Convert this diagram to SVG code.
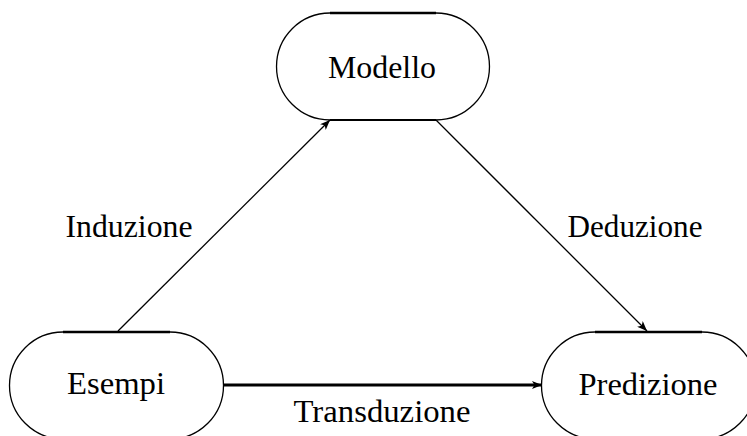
<svg xmlns="http://www.w3.org/2000/svg" width="747" height="436" viewBox="0 0 747 436">
<style>
.edge{fill:none;stroke:#000;stroke-width:1.3}
.top{fill:none;stroke:#000;stroke-width:2.6}
.bot{fill:none;stroke:#000;stroke-width:2}
.lbl{font-family:"Liberation Serif","Times New Roman",serif;font-size:31px;fill:#000}
.conn{fill:none;stroke:#000;stroke-width:1.3}
.thick{stroke-width:3}
</style>
<defs>
<marker id="ah" viewBox="0 0 10 8" refX="10" refY="4" markerWidth="10" markerHeight="8" markerUnits="userSpaceOnUse" orient="auto">
<path d="M0,0 L10,4 L0,8 L2.5,4 Z" fill="#000"/>
</marker>
</defs>
<rect width="747" height="436" fill="#fff"/>
<g id="modello">
<path class="edge" d="M330,13 A53.5,53.5 0 0 0 330,120 M436,13 A53.5,53.5 0 0 1 436,120"/>
<path class="top" d="M330,13 L436,13"/>
<path class="bot" d="M330,120 L436,120"/>
<text class="lbl" x="382" y="78" text-anchor="middle" textLength="108" lengthAdjust="spacingAndGlyphs">Modello</text>
</g>
<g id="esempi">
<path class="edge" d="M63,332 A53.5,53.5 0 0 0 63,439 M170,332 A53.5,53.5 0 0 1 170,439"/>
<path class="top" d="M63,332 L170,332"/>
<text class="lbl" x="116" y="394" text-anchor="middle" textLength="98" lengthAdjust="spacingAndGlyphs">Esempi</text>
</g>
<g id="predizione">
<path class="edge" d="M595,332 A53.5,53.5 0 0 0 595,439 M702,332 A53.5,53.5 0 0 1 702,439"/>
<path class="top" d="M595,332 L702,332"/>
<text class="lbl" x="648" y="395" text-anchor="middle" textLength="139" lengthAdjust="spacingAndGlyphs">Predizione</text>
</g>
<g id="connectors">
<line class="conn" x1="118" y1="331" x2="330" y2="120" marker-end="url(#ah)"/>
<line class="conn" x1="436" y1="120" x2="647" y2="331" marker-end="url(#ah)"/>
<line class="conn thick" x1="223" y1="385" x2="542" y2="385" marker-end="url(#ah)"/>
<text class="lbl" x="129" y="237" text-anchor="middle" textLength="127" lengthAdjust="spacingAndGlyphs">Induzione</text>
<text class="lbl" x="635" y="237" text-anchor="middle" textLength="135" lengthAdjust="spacingAndGlyphs">Deduzione</text>
<text class="lbl" x="382" y="422" text-anchor="middle" textLength="177" lengthAdjust="spacingAndGlyphs">Transduzione</text>
</g>
</svg>
